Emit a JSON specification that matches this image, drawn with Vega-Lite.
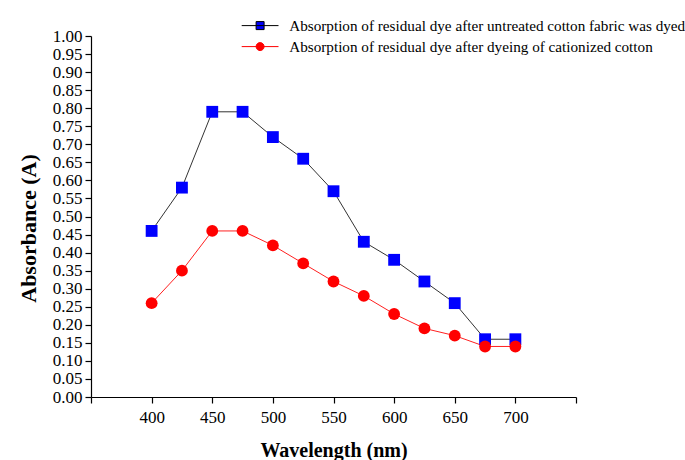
{
  "$schema": "https://vega.github.io/schema/vega-lite/v6.json",
  "width": 485,
  "height": 361,
  "autosize": {"type": "none"},
  "padding": {"left": 91, "top": 36, "right": 109, "bottom": 63},
  "background": "white",
  "config": {
    "view": {"stroke": null},
    "font": "Liberation Serif",
    "axis": {"grid": false, "domainColor": "black", "tickColor": "black", "labelColor": "black", "titleColor": "black", "labelFont": "Liberation Serif", "titleFont": "Liberation Serif", "labelFontSize": 17, "titleFontSize": 20, "titleFontWeight": "bold", "domainWidth": 1.2, "tickWidth": 1.2, "tickSize": 6}
  },
  "data": {
    "values": [
      {"wl": 400, "abs": 0.46, "series": "Absorption of residual dye after untreated cotton fabric was dyed"},
      {"wl": 425, "abs": 0.58, "series": "Absorption of residual dye after untreated cotton fabric was dyed"},
      {"wl": 450, "abs": 0.79, "series": "Absorption of residual dye after untreated cotton fabric was dyed"},
      {"wl": 475, "abs": 0.79, "series": "Absorption of residual dye after untreated cotton fabric was dyed"},
      {"wl": 500, "abs": 0.72, "series": "Absorption of residual dye after untreated cotton fabric was dyed"},
      {"wl": 525, "abs": 0.66, "series": "Absorption of residual dye after untreated cotton fabric was dyed"},
      {"wl": 550, "abs": 0.57, "series": "Absorption of residual dye after untreated cotton fabric was dyed"},
      {"wl": 575, "abs": 0.43, "series": "Absorption of residual dye after untreated cotton fabric was dyed"},
      {"wl": 600, "abs": 0.38, "series": "Absorption of residual dye after untreated cotton fabric was dyed"},
      {"wl": 625, "abs": 0.32, "series": "Absorption of residual dye after untreated cotton fabric was dyed"},
      {"wl": 650, "abs": 0.26, "series": "Absorption of residual dye after untreated cotton fabric was dyed"},
      {"wl": 675, "abs": 0.16, "series": "Absorption of residual dye after untreated cotton fabric was dyed"},
      {"wl": 700, "abs": 0.16, "series": "Absorption of residual dye after untreated cotton fabric was dyed"},
      {"wl": 400, "abs": 0.26, "series": "Absorption of residual dye after dyeing of cationized cotton"},
      {"wl": 425, "abs": 0.35, "series": "Absorption of residual dye after dyeing of cationized cotton"},
      {"wl": 450, "abs": 0.46, "series": "Absorption of residual dye after dyeing of cationized cotton"},
      {"wl": 475, "abs": 0.46, "series": "Absorption of residual dye after dyeing of cationized cotton"},
      {"wl": 500, "abs": 0.42, "series": "Absorption of residual dye after dyeing of cationized cotton"},
      {"wl": 525, "abs": 0.37, "series": "Absorption of residual dye after dyeing of cationized cotton"},
      {"wl": 550, "abs": 0.32, "series": "Absorption of residual dye after dyeing of cationized cotton"},
      {"wl": 575, "abs": 0.28, "series": "Absorption of residual dye after dyeing of cationized cotton"},
      {"wl": 600, "abs": 0.23, "series": "Absorption of residual dye after dyeing of cationized cotton"},
      {"wl": 625, "abs": 0.19, "series": "Absorption of residual dye after dyeing of cationized cotton"},
      {"wl": 650, "abs": 0.17, "series": "Absorption of residual dye after dyeing of cationized cotton"},
      {"wl": 675, "abs": 0.14, "series": "Absorption of residual dye after dyeing of cationized cotton"},
      {"wl": 700, "abs": 0.14, "series": "Absorption of residual dye after dyeing of cationized cotton"}
    ]
  },
  "encoding": {
    "x": {"field": "wl", "type": "quantitative", "scale": {"domain": [350, 750], "nice": false, "zero": false},
      "axis": {"title": "Wavelength (nm)", "values": [350, 400, 450, 500, 550, 600, 650, 700, 750], "labelExpr": "datum.value == 350 || datum.value == 750 ? '' : datum.label", "titleY": 53, "titleBaseline": "middle", "labelPadding": 6}},
    "y": {"field": "abs", "type": "quantitative", "scale": {"domain": [0, 1], "nice": false},
      "axis": {"title": "Absorbance (A)", "titleFontSize": 22, "values": [0, 0.05, 0.1, 0.15, 0.2, 0.25, 0.3, 0.35, 0.4, 0.45, 0.5, 0.55, 0.6, 0.65, 0.7, 0.75, 0.8, 0.85, 0.9, 0.95, 1.0], "format": ".2f", "labelPadding": 3, "titleX": -63, "titleY": 192, "titleBaseline": "middle"}}
  },
  "layer": [
    {
      "mark": {"type": "line", "strokeWidth": 1},
      "encoding": {
        "stroke": {"field": "series", "type": "nominal", "scale": {"domain": ["Absorption of residual dye after untreated cotton fabric was dyed", "Absorption of residual dye after dyeing of cationized cotton"], "range": ["#333333", "#ff2020"]}, "legend": null}
      }
    },
    {
      "mark": {"type": "point", "filled": true, "opacity": 1, "size": 140},
      "encoding": {
        "fill": {"field": "series", "type": "nominal", "scale": {"domain": ["Absorption of residual dye after untreated cotton fabric was dyed", "Absorption of residual dye after dyeing of cationized cotton"], "range": ["#0000ff", "#ff0000"]}, "legend": null},
        "shape": {"field": "series", "type": "nominal", "scale": {"domain": ["Absorption of residual dye after untreated cotton fabric was dyed", "Absorption of residual dye after dyeing of cationized cotton"], "range": ["square", "circle"]}, "legend": null}
      }
    },
    {
      "mark": {"type": "point", "filled": true, "opacity": 0, "size": 64, "strokeWidth": 1},
      "encoding": {
        "fill": {"field": "series", "type": "nominal", "scale": {"domain": ["Absorption of residual dye after untreated cotton fabric was dyed", "Absorption of residual dye after dyeing of cationized cotton"], "range": ["#0000fe", "#fe0000"]}},
        "stroke": {"field": "series", "type": "nominal", "scale": {"domain": ["Absorption of residual dye after untreated cotton fabric was dyed", "Absorption of residual dye after dyeing of cationized cotton"], "range": ["#000000", "#fe0000"]}},
        "shape": {"field": "series", "type": "nominal", "scale": {"domain": ["Absorption of residual dye after untreated cotton fabric was dyed", "Absorption of residual dye after dyeing of cationized cotton"], "range": ["M-4.6,0H4.6M-1,-1H1V1H-1Z", "M-4.6,0H4.6M1,0A1,1,0,1,1,-1,0A1,1,0,1,1,1,0Z"]},
          "legend": {"title": null, "orient": "none", "legendX": 161.5, "legendY": -18, "labelFontSize": 15.2, "labelFont": "Liberation Serif", "labelColor": "black", "labelOffset": 21.5, "symbolSize": 64, "symbolOpacity": 1, "symbolStrokeWidth": 1, "rowPadding": 5, "labelLimit": 600}}
      }
    }
  ],
  "resolve": {"scale": {"shape": "independent", "fill": "independent", "stroke": "independent"}}
}
